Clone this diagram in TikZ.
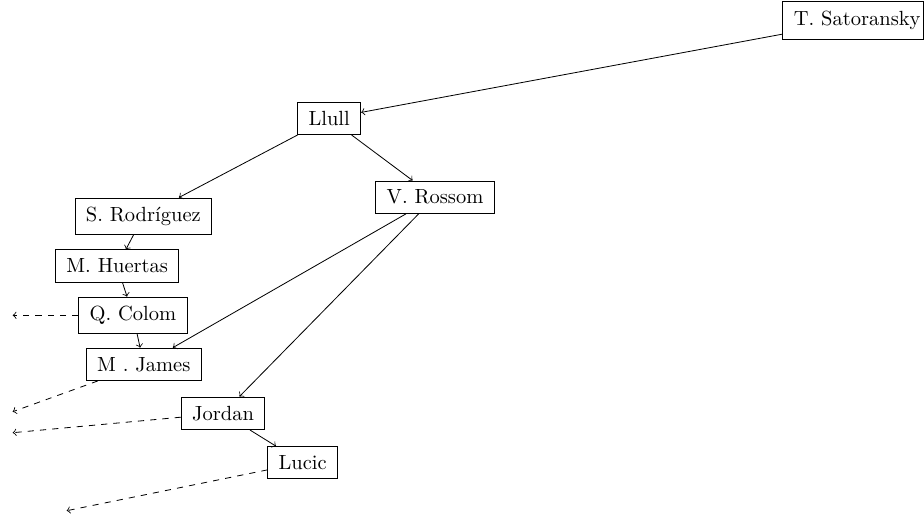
\documentclass[tikz,border=0pt]{standalone}
\usepackage{fontspec}
\begin{document}
\begin{tikzpicture}[x=0.4878pt, y=-0.4878pt,
  nd/.style={draw, rectangle, inner xsep=5.3pt, inner ysep=4.4pt, line width=0.4pt},
  link/.style={->, line width=0.4pt},
  dlink/.style={->, dashed, line width=0.4pt}]
\useasboundingbox (0,0) rectangle (924,517);
\node[nd, draw=none] (T) at (857.2,20.3) {T. Satoransky};
\coordinate (redge) at (923.4,0);
\draw (T.north west) rectangle (T.south west -| redge);
\node[nd] (L) at (329.2,118.3) {Llull};
\node[nd] (VR) at (435,197.2) {V. Rossom};
\node[nd] (SR) at (143.3,216.3) {S. Rodríguez};
\node[nd] (MH) at (117.2,266) {M. Huertas};
\node[nd] (QC) at (133,315.3) {Q. Colom};
\node[nd] (MJ) at (143.8,364.3) {M . James};
\node[nd] (JO) at (223,413.3) {Jordan};
\node[nd] (LU) at (302.7,462.7) {Lucic};
\coordinate (c1) at (12.7,315.3);
\coordinate (c2) at (12.7,411.7);
\coordinate (c3) at (12.7,432.7);
\coordinate (c4) at (66.7,510.7);
\draw[link] (T) -- (L);
\draw[link] (L) -- (SR);
\draw[link] (L) -- (VR);
\draw[link] (SR) -- (MH);
\draw[link] (MH) -- (QC);
\draw[link] (QC) -- (MJ);
\draw[link] (VR) -- (MJ);
\draw[link] (VR) -- (JO);
\draw[link] (JO) -- (LU);
\draw[dlink] (QC) -- (c1);
\draw[dlink] (MJ) -- (c2);
\draw[dlink] (JO) -- (c3);
\draw[dlink] (LU) -- (c4);
\end{tikzpicture}
\end{document}
